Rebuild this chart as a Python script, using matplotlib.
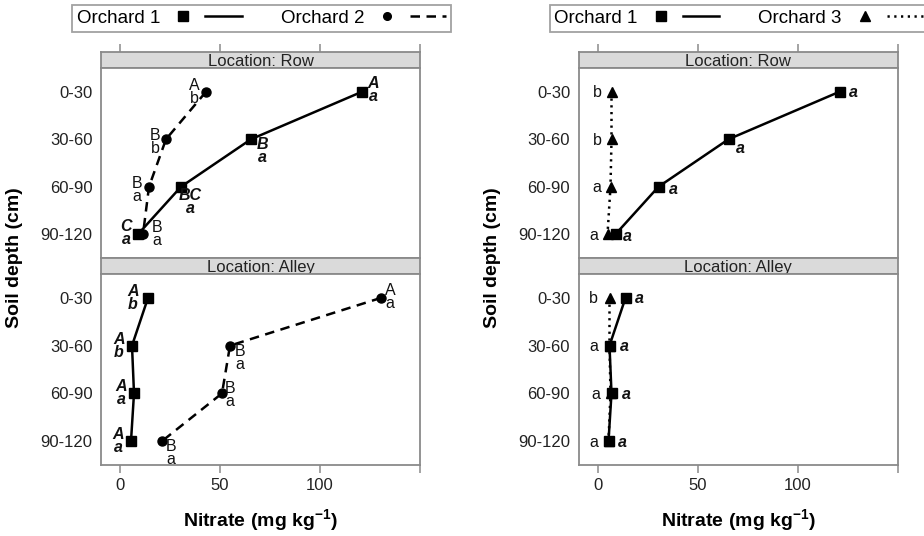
import matplotlib.pyplot as plt
from matplotlib.lines import Line2D
from matplotlib.legend_handler import HandlerTuple

plt.rcParams['font.family'] = ['Liberation Sans', 'DejaVu Sans']
plt.rcParams['mathtext.default'] = 'regular'

# ----------------------------
# Data
# ----------------------------
depths = ["0-30", "30-60", "60-90", "90-120"]
locations = ["Location: Row", "Location: Alley"]
xtick_vals = [0, 50, 100, 150]
xtick_labels = ["0", "50", "100", ""]

# nitrate, mg/kg
row_o1 = [121, 65.5, 30.5, 9]
row_o2 = [43, 23, 14.5, 11.5]
row_o3 = [7, 7, 6.5, 5]
alley_o1 = [14, 6, 7, 5.5]
alley_o2 = [130.5, 55, 51, 21]
alley_o3 = [6, 6, 6.5, 5.5]

# mean separation letters
row_o1_up = ["A", "B", "BC", "C"]
row_o1_low = ["a", "a", "a", "a"]
row_o2_up = ["A", "B", "B", "B"]
row_o2_low = ["b", "b", "a", "a"]
alley_o1_up = ["A", "A", "A", "A"]
alley_o1_low = ["b", "b", "a", "a"]
alley_o2_up = ["A", "B", "B", "B"]
alley_o2_low = ["a", "a", "a", "a"]
row_o1_r = ["a", "a", "a", "a"]
row_o3_r = ["b", "b", "a", "a"]
alley_o1_r = ["a", "a", "a", "a"]
alley_o3_r = ["b", "a", "a", "a"]

# label offsets (pixels, +dy = down)
off_row_o1 = [(11, -2), (11, 12), (9, 15), (-12, -1)]
off_row_o2 = [(-12, 0), (-11, 3), (-12, 3), (14, 0)]
off_alley_o1 = [(-15, 0), (-13, 0), (-13, 0), (-13, 0)]
off_alley_o2 = [(9, -1), (10, 12), (8, 2), (9, 12)]
off_row_o1_r = [(14, 1), (12, 9), (15, 3), (12, 2)]
off_row_o3_r = [(-14, 1), (-14, 1), (-14, 1), (-14, 1)]
off_alley_o1_r = [(14, 1), (15, 1), (15, 1), (14, 1)]
off_alley_o3_r = [(-16, 1), (-16, 1), (-15, 1), (-15, 1)]

# ----------------------------
# Layout helpers
# ----------------------------
W, H = 924, 536
frame = "#8a8a8a"
strip_fill = "#dadada"
ypos = list(range(len(depths)))

fig = plt.figure(figsize=(W / 100, H / 100), dpi=100)


def px_axes(x0, y0, x1, y1):
    return fig.add_axes([x0 / W, 1 - y1 / H, (x1 - x0) / W, (y1 - y0) / H])


def style_frame(ax):
    for s in ax.spines.values():
        s.set_color(frame)
        s.set_linewidth(1.3)


SOLID = dict(linestyle="-")
DASHED = dict(linestyle=(0, (3.8, 2.6)))
DOTTED = dict(linestyle=(0, (0.9, 1.8)))
MARK = {"s": 7.5, "o": 6.5, "^": 7.5}
KEY_MARK = {"s": 6.5, "o": 5.5, "^": 6.5}


def draw_series(ax, vals, marker, ls, labels, offs, emph):
    ax.plot(vals, ypos, color="black", lw=1.8, marker=marker,
            ms=MARK[marker], **ls)
    for x, y, lab, (dx, dy) in zip(vals, ypos, labels, offs):
        ax.annotate(lab, (x, y), xytext=(dx, -dy), textcoords="offset pixels",
                    ha="center", va="center", fontsize=11.5, linespacing=0.82,
                    fontweight="bold" if emph else "normal",
                    fontstyle="italic" if emph else "normal", color="#111")


def make_column(x0, panels, key_name, key_marker, key_ls, xlab_y=520):
    x1 = x0 + 319
    bands = [(52, 68, 258), (258, 274, 465)]
    for i, ((s0, p0, p1), series) in enumerate(zip(bands, panels)):
        strip = px_axes(x0, s0, x1, p0)
        strip.set_facecolor(strip_fill)
        strip.set_xlim(-9.5, 150)
        strip.set_ylim(0, 1)
        strip.set_yticks([])
        style_frame(strip)
        if i == 0:
            strip.xaxis.tick_top()
            strip.set_xticks(xtick_vals, [])
            strip.tick_params(axis="x", direction="out", length=5.5,
                              color=frame, width=1.1)
        else:
            strip.set_xticks([])
        strip.text(0.5, 0.42, locations[i], transform=strip.transAxes,
                   ha="center", va="center", fontsize=12, color="#222",
                   clip_on=True)

        ax = px_axes(x0, p0, x1, p1)
        style_frame(ax)
        ax.set_xlim(-9.5, 150)
        ax.set_ylim(3.5, -0.5)
        ax.set_yticks(ypos, depths)
        ax.tick_params(axis="y", length=0, pad=6, labelsize=12,
                       labelcolor="#222")
        if i == 1:
            ax.set_xticks(xtick_vals, xtick_labels)
            ax.tick_params(axis="x", direction="out", length=5.5, pad=4,
                           labelsize=12, labelcolor="#222", color=frame,
                           width=1.1)
        else:
            ax.set_xticks([])
        for args in series:
            draw_series(ax, *args)

    fig.text((x0 + x1) / 2 / W, 1 - xlab_y / H, r"Nitrate (mg kg$^{-1}$)",
             ha="center", va="center", fontsize=14, fontweight="bold")
    fig.text((x0 - 86) / W, 1 - 258 / H, "Soil depth (cm)", rotation=90,
             ha="center", va="center", fontsize=14, fontweight="bold")

    h1 = (Line2D([], [], color="black", marker="s", ms=KEY_MARK["s"], ls="none"),
          Line2D([], [], color="black", lw=1.8, **SOLID))
    h2 = (Line2D([], [], color="black", marker=key_marker,
                 ms=KEY_MARK[key_marker], ls="none"),
          Line2D([], [], color="black", lw=1.8, **key_ls))
    leg = fig.legend([h1, h2], ["Orchard 1", key_name],
                     handler_map={tuple: HandlerTuple(ndivide=None, pad=0.2)},
                     markerfirst=False, ncol=2, numpoints=1,
                     loc="upper left",
                     bbox_to_anchor=((x0 - 29) / W, 1 - 5 / H),
                     borderaxespad=0, borderpad=0.25, handlelength=4.1,
                     handletextpad=0.25, columnspacing=2.1, fontsize=13.5,
                     frameon=True, fancybox=False, edgecolor=frame)
    leg.get_frame().set_linewidth(1.3)


# ----------------------------
# Left chart: Orchard 1 vs 2
# ----------------------------
make_column(
    101,
    [
        [(row_o1, "s", SOLID, [u + "\n" + l for u, l in zip(row_o1_up, row_o1_low)], off_row_o1, True),
         (row_o2, "o", DASHED, [u + "\n" + l for u, l in zip(row_o2_up, row_o2_low)], off_row_o2, False)],
        [(alley_o1, "s", SOLID, [u + "\n" + l for u, l in zip(alley_o1_up, alley_o1_low)], off_alley_o1, True),
         (alley_o2, "o", DASHED, [u + "\n" + l for u, l in zip(alley_o2_up, alley_o2_low)], off_alley_o2, False)],
    ],
    "Orchard 2", "o", DASHED,
)

# ----------------------------
# Right chart: Orchard 1 vs 3
# ----------------------------
make_column(
    578.5,
    [
        [(row_o3, "^", DOTTED, row_o3_r, off_row_o3_r, False),
         (row_o1, "s", SOLID, row_o1_r, off_row_o1_r, True)],
        [(alley_o3, "^", DOTTED, alley_o3_r, off_alley_o3_r, False),
         (alley_o1, "s", SOLID, alley_o1_r, off_alley_o1_r, True)],
    ],
    "Orchard 3", "^", DOTTED,
)

fig.savefig("out.png", dpi=100)
plt.close(fig)
print("saved out.png")
